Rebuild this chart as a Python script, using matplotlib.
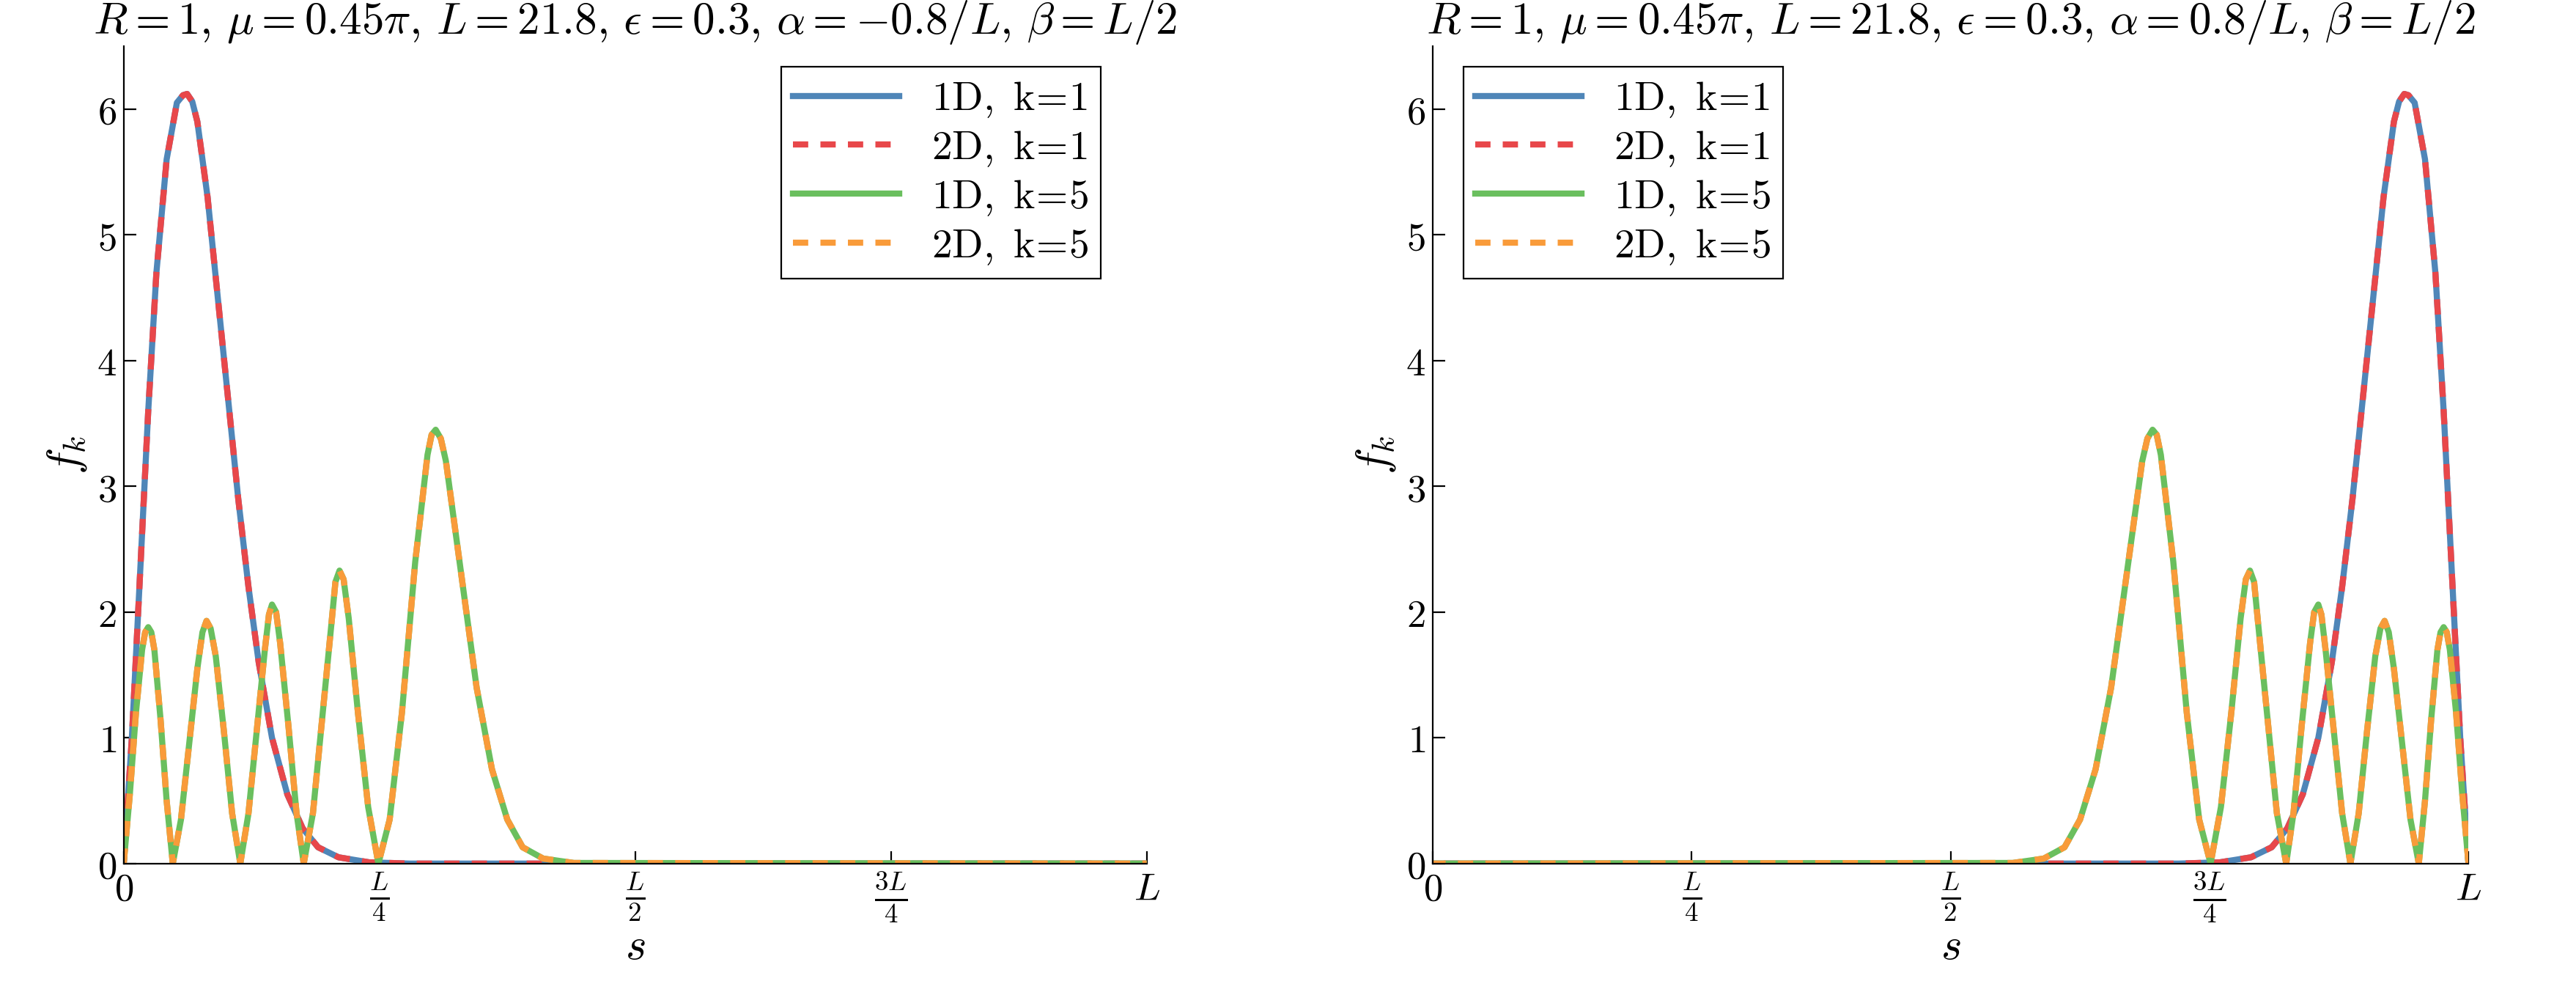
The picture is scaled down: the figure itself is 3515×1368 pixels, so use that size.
import matplotlib
matplotlib.use("Agg")
import matplotlib.pyplot as plt
import numpy as np

plt.rcParams['mathtext.fontset'] = 'cm'
plt.rcParams['font.family'] = ['DejaVu Serif']

# s in units of L
s_k1 = [0, 0.008, 0.016, 0.024, 0.032, 0.042, 0.052, 0.058, 0.062, 0.067, 0.072, 0.082, 0.092, 0.102,
        0.112, 0.122, 0.132, 0.145, 0.16, 0.175, 0.19, 0.21, 0.24, 0.28, 1.0]
f_k1 = [0, 1.0, 2.3, 3.6, 4.7, 5.6, 6.05, 6.11, 6.12, 6.06, 5.9, 5.3, 4.5, 3.7,
        2.9, 2.2, 1.6, 1.0, 0.55, 0.28, 0.13, 0.05, 0.01, 0, 0]
s_k5 = [0, 0.006, 0.012, 0.018, 0.021, 0.024, 0.027, 0.030, 0.036, 0.042, 0.048,
        0.056, 0.064, 0.072, 0.077, 0.081, 0.085, 0.090, 0.098, 0.106, 0.114,
        0.122, 0.130, 0.138, 0.142, 0.145, 0.149, 0.153, 0.161, 0.169, 0.176,
        0.185, 0.194, 0.203, 0.207, 0.211, 0.215, 0.220, 0.229, 0.239, 0.249,
        0.260, 0.272, 0.285, 0.297, 0.301, 0.305, 0.310, 0.315, 0.330, 0.345, 0.36, 0.375, 0.39, 0.41, 0.44, 1.0]
f_k5 = [0, 0.55, 1.2, 1.7, 1.84, 1.88, 1.84, 1.7, 1.15, 0.5, 0,
        0.35, 0.95, 1.55, 1.84, 1.93, 1.87, 1.65, 1.05, 0.4, 0,
        0.4, 1.05, 1.7, 1.98, 2.06, 2.0, 1.75, 1.1, 0.4, 0,
        0.4, 1.15, 1.9, 2.24, 2.33, 2.26, 1.95, 1.2, 0.45, 0,
        0.35, 1.2, 2.4, 3.25, 3.41, 3.45, 3.38, 3.2, 2.3, 1.4, 0.75, 0.35, 0.13, 0.04, 0.005, 0]

titles = [r'$R=1,\,\mu=0.45\pi,\,L=21.8,\,\epsilon=0.3,\,\alpha=-0.8/L,\,\beta=L/2$',
          r'$R=1,\,\mu=0.45\pi,\,L=21.8,\,\epsilon=0.3,\,\alpha=0.8/L,\,\beta=L/2$']
xticklabels = [r'$0$', r'$\frac{L}{4}$', r'$\frac{L}{2}$', r'$\frac{3L}{4}$', r'$L$']
labels = [r'$\mathrm{1D,\ k}\!=\!\mathrm{1}$', r'$\mathrm{2D,\ k}\!=\!\mathrm{1}$',
          r'$\mathrm{1D,\ k}\!=\!\mathrm{5}$', r'$\mathrm{2D,\ k}\!=\!\mathrm{5}$']
colors = ['#4f86b8', '#e8474a', '#6abf5e', '#f99b3a']

fig = plt.figure(figsize=(17.58, 6.84), dpi=200)
axes = [fig.add_axes([0.048, 0.139, 0.397, 0.815]), fig.add_axes([0.556, 0.139, 0.402, 0.815])]
for i, ax in enumerate(axes):
    x1 = np.array(s_k1); x5 = np.array(s_k5)
    if i == 1:
        x1 = 1 - x1; x5 = 1 - x5
    ax.plot(x1, f_k1, color=colors[0], lw=3, label=labels[0])
    ax.plot(x1, f_k1, color=colors[1], lw=3, ls=(0, (2.5, 2)), label=labels[1])
    ax.plot(x5, f_k5, color=colors[2], lw=3, label=labels[2])
    ax.plot(x5, f_k5, color=colors[3], lw=3, ls=(0, (2.5, 2)), label=labels[3])
    ax.set_xlim(0, 1); ax.set_ylim(0, 6.5)
    ax.set_xticks([0, 0.25, 0.5, 0.75, 1]); ax.set_xticklabels(xticklabels)
    ax.set_yticks(range(7)); ax.set_yticklabels([f'${v}$' for v in range(7)])
    ax.spines['top'].set_visible(False); ax.spines['right'].set_visible(False)
    ax.tick_params(direction='in', labelsize=19, length=6)
    ax.set_xlabel(r'$s$', fontsize=22, labelpad=0)
    ax.set_ylabel(r'$f_k$', fontsize=22)
    ax.set_title(titles[i], fontsize=22, pad=6)
    leg = ax.legend(loc='upper right' if i == 0 else 'upper left', fontsize=20, fancybox=False,
                    edgecolor='black', framealpha=1, handlelength=2.6, borderpad=0.3, labelspacing=0.2,
                    bbox_to_anchor=(0.975, 1.0) if i == 0 else (0.01, 1.0))
    leg.get_frame().set_linewidth(0.8)
fig.savefig('out.png', dpi=200)
